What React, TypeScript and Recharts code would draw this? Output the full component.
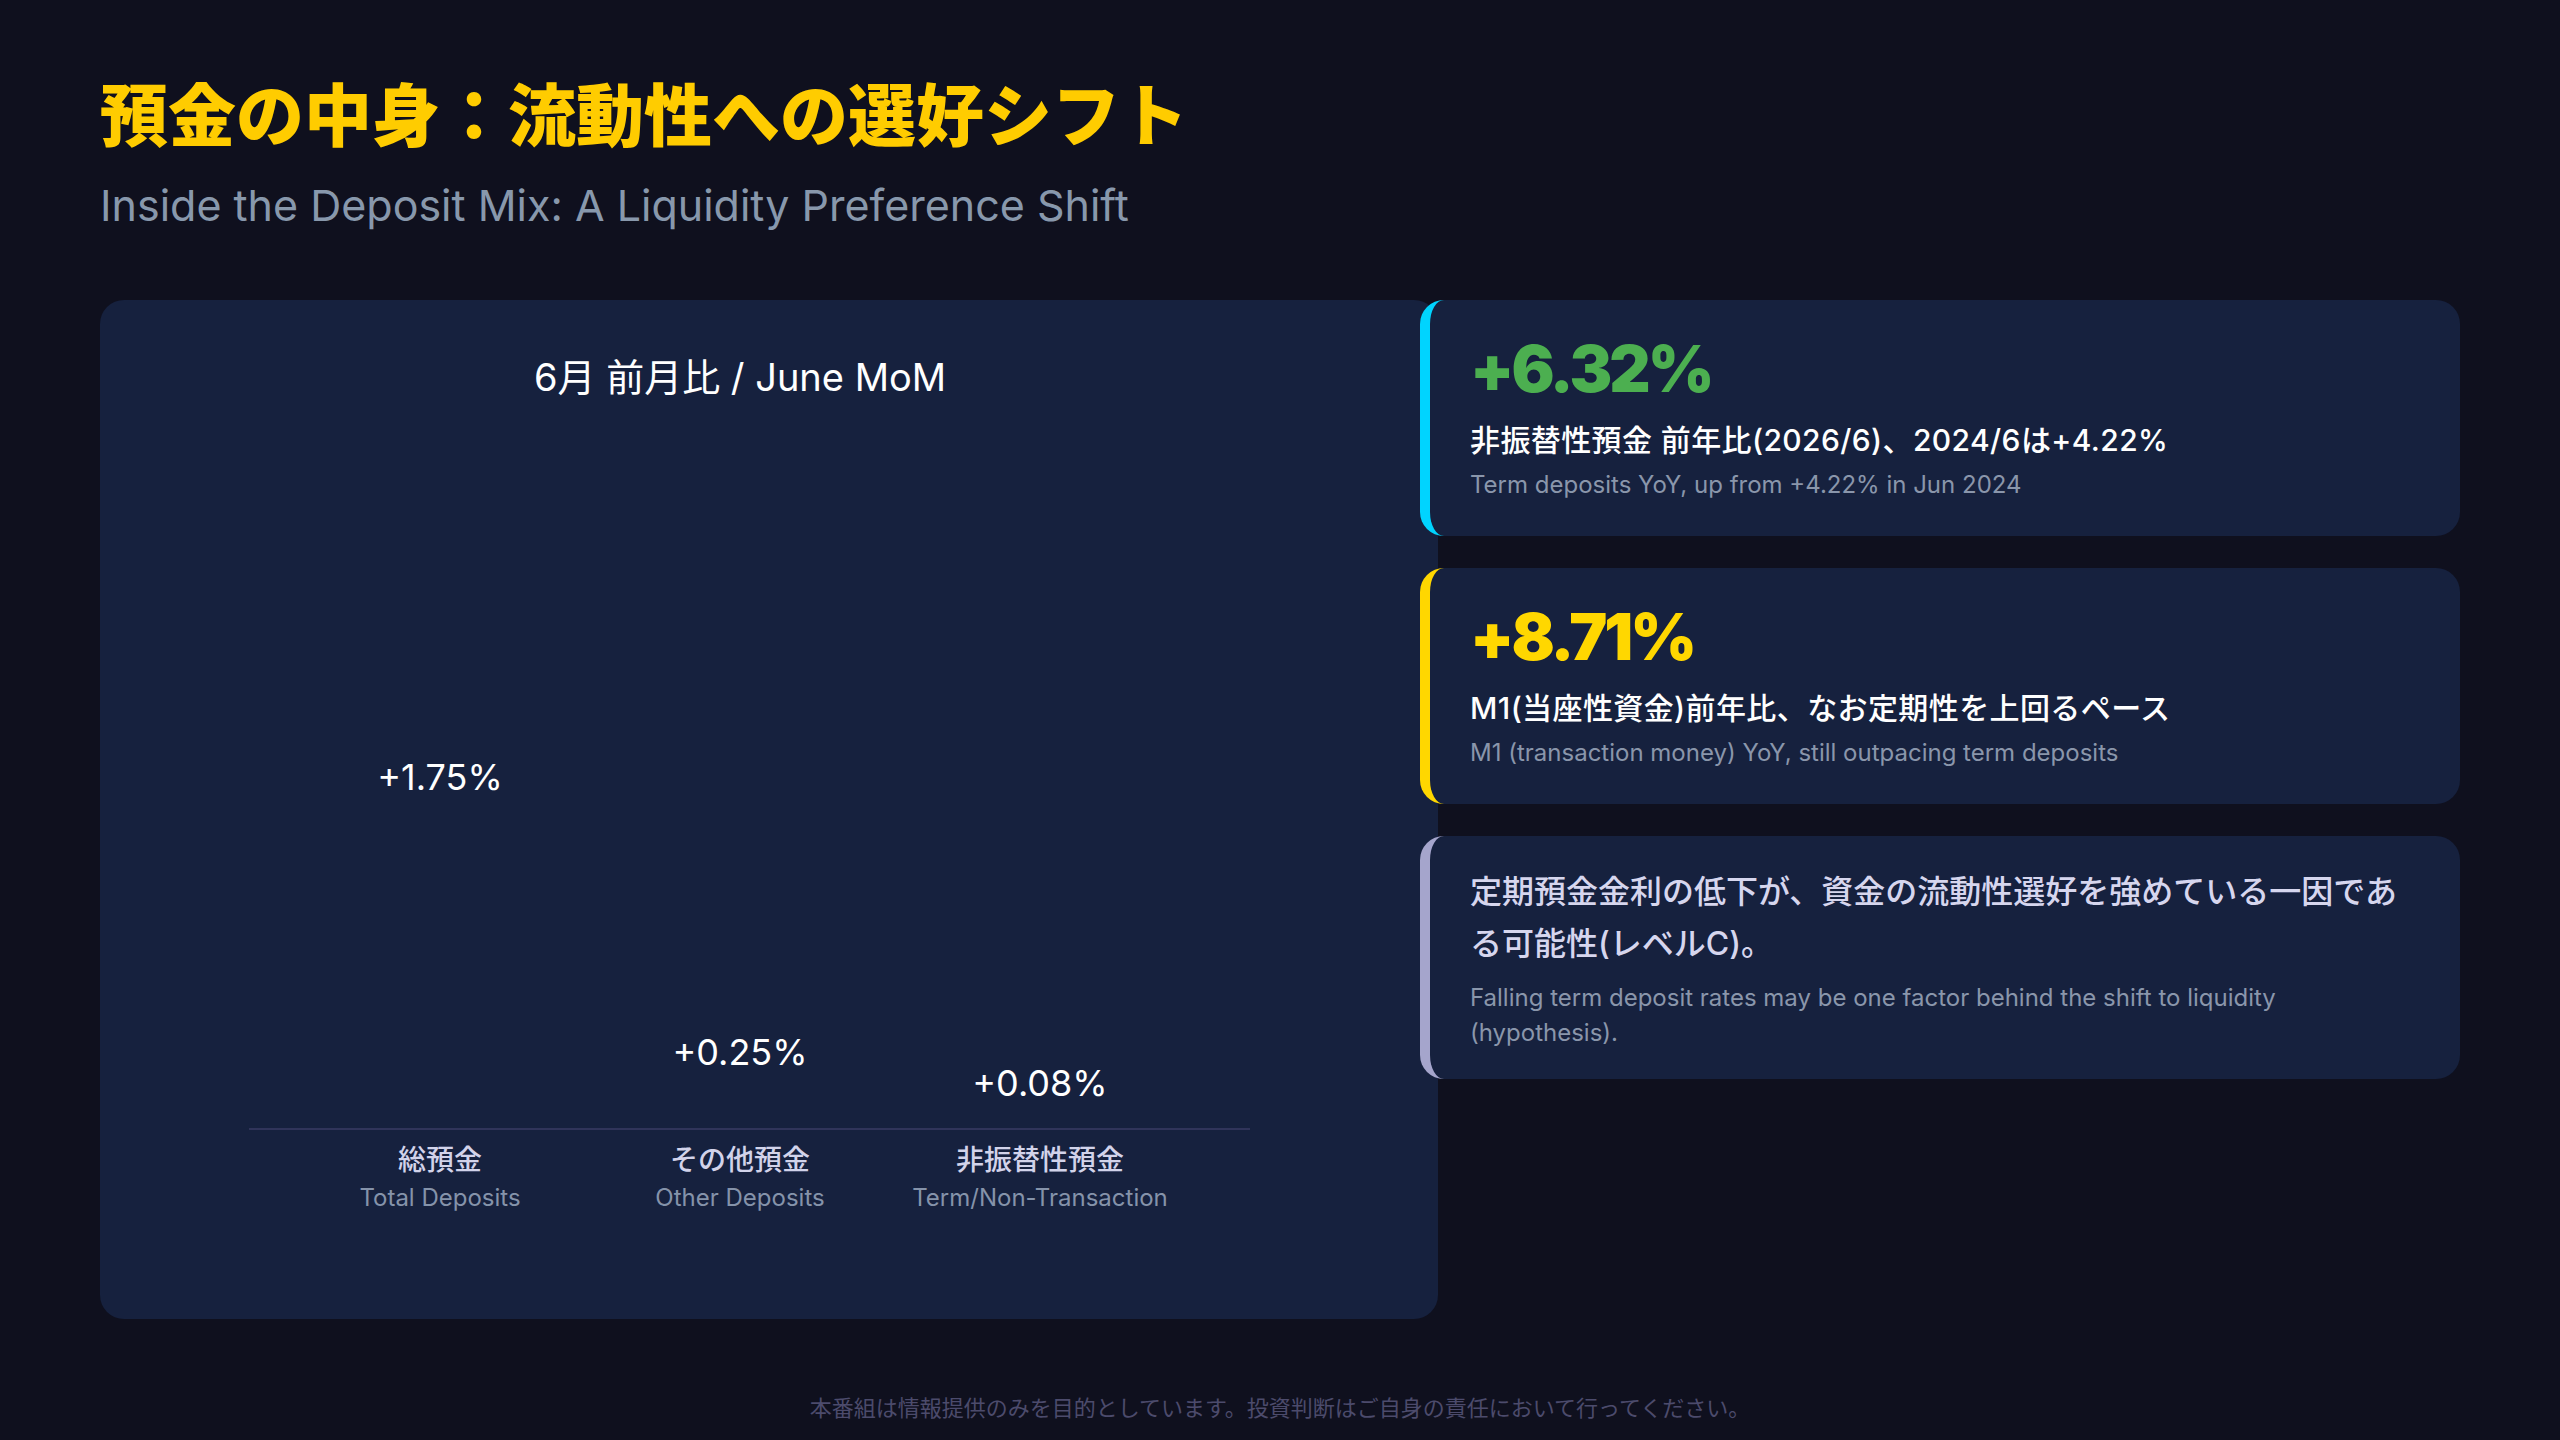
import React from 'react';
import { BarChart, Bar, XAxis, YAxis, LabelList } from 'recharts';

// June month-on-month change of deposits, %
const categoriesJa = ['総預金', 'その他預金', '非振替性預金'];
const categoriesEn = ['Total Deposits', 'Other Deposits', 'Term/Non-Transaction'];
const momValues = [1.75, 0.25, 0.08];

const chartData = categoriesJa.map((name, i) => ({ name, en: categoriesEn[i], value: momValues[i] }));

const FONT = "Inter, 'Noto Sans CJK JP', sans-serif";
const BG = '#0f101e';
const CARD = '#16213e';

const CategoryTick = (props: any) => {
  const { x, y, payload } = props;
  const idx = categoriesJa.indexOf(payload.value);
  return (
    <g transform={`translate(${x},${y})`}>
      <text textAnchor="middle" dy={41} fill="#d2d3ea" fontSize={28} fontWeight={500} fontFamily={FONT}>
        {payload.value}
      </text>
      <text textAnchor="middle" dy={77} fill="#8593aa" fontSize={24} fontFamily={FONT}>
        {categoriesEn[idx]}
      </text>
    </g>
  );
};

const StatCard = ({ top, height, accent, value, valueColor, line, sub }: any) => (
  <div
    style={{
      position: 'absolute',
      left: 1420,
      top,
      width: 1040,
      height,
      boxSizing: 'border-box',
      background: CARD,
      borderLeft: `10px solid ${accent}`,
      borderRadius: 24,
      padding: '37px 42px 0 40px',
      fontFamily: FONT,
    }}
  >
    <div style={{ fontSize: 64, lineHeight: '64px', fontWeight: 900, color: valueColor, letterSpacing: -3 }}>{value}</div>
    <div
      style={{
        marginTop: 19,
        fontSize: 30,
        lineHeight: '40px',
        fontWeight: 500,
        color: '#ffffff',
        whiteSpace: 'nowrap',
        letterSpacing: 0.4,
      }}
    >
      {line}
    </div>
    <div style={{ marginTop: 10, fontSize: 24, lineHeight: '30px', color: '#8a96ab', whiteSpace: 'nowrap' }}>{sub}</div>
  </div>
);

export default function App() {
  return (
    <div style={{ position: 'fixed', left: 0, top: 0, width: 2560, height: 1440, background: BG, overflow: 'hidden', fontFamily: FONT }}>
      <div
        style={{
          position: 'absolute',
          left: 100,
          top: 78,
          fontSize: 68,
          lineHeight: '68px',
          fontWeight: 900,
          color: '#ffcc00',
          fontFamily: "'Noto Sans CJK JP', sans-serif",
          whiteSpace: 'nowrap',
        }}
      >
        預金の中身：流動性への選好シフト
      </div>
      <div style={{ position: 'absolute', left: 100, top: 183, fontSize: 43, lineHeight: '44px', color: '#8898ac', whiteSpace: 'nowrap' }}>
        Inside the Deposit Mix: A Liquidity Preference Shift
      </div>

      {/* chart card */}
      <div style={{ position: 'absolute', left: 100, top: 300, width: 1338, height: 1019, background: CARD, borderRadius: 24 }} />
      <div
        style={{
          position: 'absolute',
          left: 440,
          top: 358,
          width: 600,
          textAlign: 'center',
          fontSize: 38,
          lineHeight: '38px',
          fontWeight: 400,
          color: '#ffffff',
          whiteSpace: 'nowrap',
        }}
      >
        6月 前月比 / June MoM
      </div>
      <div style={{ position: 'absolute', left: 200, top: 559 }}>
        <BarChart width={1100} height={680} data={chartData} margin={{ top: 20, right: 50, bottom: 0, left: 49 }}>
          <XAxis
            dataKey="name"
            height={110}
            interval={0}
            padding={{ left: 41, right: 60 }}
            axisLine={{ stroke: '#30345a', strokeWidth: 2 }}
            tickLine={false}
            tickSize={0}
            tickMargin={0}
            tick={<CategoryTick />}
          />
          <YAxis hide domain={[0, 3]} />
          <Bar dataKey="value" fill="transparent" isAnimationActive={false}>
            <LabelList
              dataKey="value"
              position="top"
              offset={18}
              fill="#ffffff"
              fontSize={36}
              fontFamily={FONT}
              formatter={(v: any) => `+${Number(v).toFixed(2)}%`}
            />
          </Bar>
        </BarChart>
      </div>

      <StatCard
        top={300}
        height={236}
        accent="#00d4ff"
        value="+6.32%"
        valueColor="#4caf50"
        line="非振替性預金 前年比(2026/6)、2024/6は+4.22%"
        sub="Term deposits YoY, up from +4.22% in Jun 2024"
      />
      <StatCard
        top={568}
        height={236}
        accent="#ffd700"
        value="+8.71%"
        valueColor="#ffd700"
        line="M1(当座性資金)前年比、なお定期性を上回るペース"
        sub="M1 (transaction money) YoY, still outpacing term deposits"
      />
      <div
        style={{
          position: 'absolute',
          left: 1420,
          top: 836,
          width: 1040,
          height: 243,
          boxSizing: 'border-box',
          background: CARD,
          borderLeft: '10px solid #a5a5cc',
          borderRadius: 24,
          padding: '30px 42px 0 40px',
          fontFamily: FONT,
        }}
      >
        <div style={{ fontSize: 32, lineHeight: '52px', fontWeight: 500, color: '#d6d6ee', whiteSpace: 'nowrap' }}>
          定期預金金利の低下が、資金の流動性選好を強めている一因であ
          <br />
          る可能性(レベルC)。
        </div>
        <div style={{ marginTop: 10, fontSize: 24, lineHeight: '35px', color: '#8a96ab', whiteSpace: 'nowrap' }}>
          Falling term deposit rates may be one factor behind the shift to liquidity
          <br />
          (hypothesis).
        </div>
      </div>

      <div
        style={{
          position: 'absolute',
          left: 0,
          top: 1397,
          width: 2560,
          textAlign: 'center',
          fontSize: 22,
          lineHeight: '22px',
          color: '#4c4b6c',
          whiteSpace: 'nowrap',
        }}
      >
        本番組は情報提供のみを目的としています。投資判断はご自身の責任において行ってください。
      </div>
    </div>
  );
}
